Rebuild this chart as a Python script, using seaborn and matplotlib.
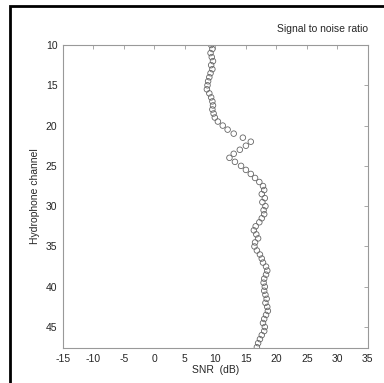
import numpy as np
import pandas as pd
import matplotlib
matplotlib.use("Agg")
import matplotlib.pyplot as plt
import seaborn as sns
from matplotlib.patches import Rectangle

# canales del hidrófono (paso de medio canal)
channel = [10.0, 10.5, 11.0, 11.5, 12.0, 12.5, 13.0, 13.5, 14.0, 14.5,
           15.0, 15.5, 16.0, 16.5, 17.0, 17.5, 18.0, 18.5, 19.0, 19.5,
           20.0, 20.5, 21.0, 21.5, 22.0, 22.5, 23.0, 23.5, 24.0, 24.5,
           25.0, 25.5, 26.0, 26.5, 27.0, 27.5, 28.0, 28.5, 29.0, 29.5,
           30.0, 30.5, 31.0, 31.5, 32.0, 32.5, 33.0, 33.5, 34.0, 34.5,
           35.0, 35.5, 36.0, 36.5, 37.0, 37.5, 38.0, 38.5, 39.0, 39.5,
           40.0, 40.5, 41.0, 41.5, 42.0, 42.5, 43.0, 43.5, 44.0, 44.5,
           45.0, 45.5, 46.0, 46.5, 47.0, 47.5]

# relación señal/ruido (dB)
snr = [9.3, 9.5, 9.2, 9.4, 9.6, 9.3, 9.5, 9.2, 9.0, 8.8,
       8.7, 8.6, 9.0, 9.3, 9.5, 9.6, 9.5, 9.7, 9.9, 10.4,
       11.2, 12.0, 13.0, 14.5, 15.8, 15.0, 14.0, 13.0, 12.3, 13.2,
       14.2, 15.0, 15.8, 16.5, 17.2, 17.8, 18.0, 17.6, 18.1, 17.7,
       18.2, 17.9, 18.0, 17.6, 17.2, 16.6, 16.3, 16.7, 17.0, 16.5,
       16.4, 16.8, 17.3, 17.6, 17.8, 18.3, 18.5, 18.3, 18.0, 17.9,
       18.1, 18.0, 18.2, 18.4, 18.2, 18.5, 18.6, 18.3, 18.0, 17.8,
       18.1, 18.0, 17.6, 17.3, 17.0, 16.8]

data = pd.DataFrame({"SNR": snr, "canal": channel})

sns.set_style("white")
plt.rcParams['font.family'] = ['Liberation Sans', 'DejaVu Sans']
plt.rcParams['axes.unicode_minus'] = False

fig = plt.figure(figsize=(3.84, 3.83), dpi=100)
ax = fig.add_axes([0.164, 0.0914, 0.794, 0.7911])

sns.scatterplot(data=data, x="SNR", y="canal", ax=ax, marker="o", s=16,
                facecolors="none", edgecolor="#666666", linewidth=0.6)

ax.set_xlim(-15, 35)
ax.set_ylim(47.6, 10)
ax.set_xticks(np.arange(-15, 36, 5))
ax.set_yticks(np.arange(10, 46, 5))
ax.tick_params(direction="in", length=3, width=0.6, color="#999999",
               labelsize=7.5, top=True, right=True, pad=4)
for s in ax.spines.values():
    s.set_color("#999999")
    s.set_linewidth(0.8)

ax.set_xlabel("SNR  (dB)", fontsize=7.5, labelpad=1)
ax.set_ylabel("Hydrophone channel", fontsize=7.5, labelpad=4)
ax.text(1.0, 1.035, "Signal to noise ratio", transform=ax.transAxes,
        ha="right", va="bottom", fontsize=7.5)

# marco negro de la figura
fig.patches.append(Rectangle((10 / 384, -0.1), 1.2, 1 - 6 / 383 + 0.1,
                             transform=fig.transFigure, fill=False,
                             edgecolor="black", linewidth=2))

fig.savefig("out.png", dpi=100)
